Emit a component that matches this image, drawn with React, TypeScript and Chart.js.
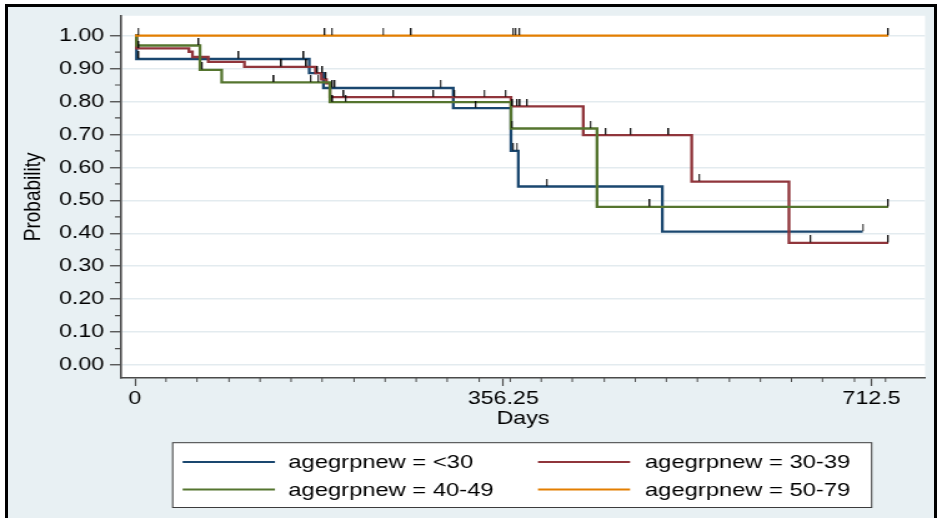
import React, { useEffect, useRef } from "react";
import { Chart, registerables } from "chart.js";

Chart.register(...registerables);

// ---------- data ----------
const seriesLabels = [
  "agegrpnew = <30",
  "agegrpnew = 30-39",
  "agegrpnew = 40-49",
  "agegrpnew = 50-79",
];
const seriesColors = ["#1a476f", "#90353b", "#55752f", "#e37e00"];

// step points: day at which survival drops, survival after the drop
const under30Days = [0, 1.5, 168.6, 182.3, 307.9, 363.7, 370.8, 510.1, 703.9];
const under30Surv = [1, 0.929, 0.886, 0.841, 0.78, 0.65, 0.542, 0.405, 0.405];
const under30Censor = [3.9, 100.6, 163.5, 181.6, 191.2, 193.5, 295.7, 329.9, 365.9, 369.2, 398.5, 703.9];

const age3039Days = [0, 1.5, 52.2, 55.6, 70.9, 105.9, 174.6, 180.4, 185.2, 188.6, 363.7, 433.6, 538.5, 632.6, 728.7];
const age3039Surv = [1, 0.961, 0.951, 0.935, 0.92, 0.905, 0.886, 0.867, 0.855, 0.813, 0.785, 0.698, 0.557, 0.371, 0.371];
const age3039Censor = [3.9, 141.9, 166.1, 176.7, 184.8, 202.2, 250.2, 288.9, 309.3, 337.9, 358.6, 365.4, 369.8, 372.7, 379.5, 455.6, 479.8, 516.5, 545.9, 653.6, 728.7];

const age4049Days = [0, 1.5, 62.9, 83.9, 188.6, 363.7, 446.9, 728.7];
const age4049Surv = [1, 0.97, 0.896, 0.858, 0.798, 0.718, 0.48, 0.48];
const age4049Censor = [61.9, 65.1, 134.7, 170.2, 177.3, 191.5, 204.1, 364.4, 440.8, 498.2, 728.7];

const age5079Days = [0, 728.7];
const age5079Surv = [1, 1];
const age5079Censor = [3.2, 183.8, 190.6, 239.9, 267.3, 365.9, 368.3, 372.1, 728.7];

const xTickValues = [0, 356.25, 712.5];
const xMinorTickValues = [30, 60, 91, 121, 151, 181, 212, 242, 272, 302, 333, 363, 393, 423, 454, 484, 514, 544, 575, 605, 635, 665, 696, 726];
const yTickValues = [0, 0.1, 0.2, 0.3, 0.4, 0.5, 0.6, 0.7, 0.8, 0.9, 1.0];
const yMinorTickValues = [0.05, 0.15, 0.25, 0.35, 0.45, 0.55, 0.65, 0.75, 0.85, 0.95];

const xMin = -13.5;
const xMax = 764.2;
const yMin = -0.0392;
const yMax = 1.0602;

const curves = [
  { days: under30Days, surv: under30Surv, censor: under30Censor },
  { days: age3039Days, surv: age3039Surv, censor: age3039Censor },
  { days: age4049Days, surv: age4049Surv, censor: age4049Censor },
  { days: age5079Days, surv: age5079Surv, censor: age5079Censor },
];

// ---------- layout / style ----------
const PAGE_W = 937;
const PAGE_H = 518;
const CANVAS_W = 750; // drawn narrower, then stretched horizontally like the reference
const FONT = "'Liberation Sans', Arial, Helvetica, sans-serif";
const AXIS_COLOR = "#4a4a4a";

function survivalAt(days: number[], surv: number[], t: number) {
  let v = surv[0];
  for (let i = 0; i < days.length; i++) {
    if (days[i] <= t) v = surv[i];
  }
  return v;
}

function makeCensorMark() {
  const c = document.createElement("canvas");
  c.width = 2;
  c.height = 15;
  const g = c.getContext("2d")!;
  g.fillStyle = "rgba(0,0,0,0.9)";
  g.fillRect(0, 0, 1, 7);
  g.fillStyle = "rgba(0,0,0,0.25)";
  g.fillRect(1, 0, 1, 7);
  return c;
}

const plotBackground = {
  id: "plotBackground",
  beforeDraw(chart: any) {
    const { ctx, chartArea: a } = chart;
    ctx.save();
    ctx.fillStyle = "#ffffff";
    ctx.fillRect(a.left, a.top, a.right - a.left, a.bottom - a.top);
    ctx.restore();
  },
};

const minorTicksAndLegend = {
  id: "minorTicksAndLegend",
  afterDraw(chart: any) {
    const { ctx, chartArea: a, scales } = chart;
    ctx.save();
    ctx.strokeStyle = AXIS_COLOR;
    ctx.lineWidth = 1;
    ctx.beginPath();
    for (const v of xMinorTickValues) {
      const px = scales.x.getPixelForValue(v);
      if (px < a.left || px > a.right) continue;
      ctx.moveTo(px, a.bottom);
      ctx.lineTo(px, a.bottom + 4);
    }
    ctx.stroke();
    ctx.lineWidth = 1.2;
    ctx.beginPath();
    for (const v of yMinorTickValues) {
      const py = scales.y.getPixelForValue(v);
      ctx.moveTo(a.left - 4.8, py);
      ctx.lineTo(a.left, py);
    }
    ctx.stroke();

    // legend box
    const box = { left: 138.2, right: 697.7, top: 442.7, bottom: 507.5 };
    ctx.fillStyle = "#ffffff";
    ctx.fillRect(box.left, box.top, box.right - box.left, box.bottom - box.top);
    ctx.strokeStyle = "#3c3c3c";
    ctx.lineWidth = 1;
    ctx.strokeRect(box.left, box.top, box.right - box.left, box.bottom - box.top);

    const lineX0 = [146.2, 430.6];
    const lineX1 = [220.1, 504.3];
    const textX = [230.8, 516.3];
    const rowY = [462, 489.5];
    ctx.font = `19px ${FONT}`;
    ctx.textBaseline = "middle";
    ctx.textAlign = "left";
    seriesLabels.forEach((label, i) => {
      const col = i % 2;
      const row = Math.floor(i / 2);
      ctx.strokeStyle = seriesColors[i];
      ctx.lineWidth = 2;
      ctx.beginPath();
      ctx.moveTo(lineX0[col], rowY[row]);
      ctx.lineTo(lineX1[col], rowY[row]);
      ctx.stroke();
      ctx.fillStyle = "#000000";
      ctx.fillText(label, textX[col], rowY[row] + 1);
    });
    ctx.restore();
  },
};

export default function App() {
  const canvasRef = useRef<HTMLCanvasElement | null>(null);

  useEffect(() => {
    const canvas = canvasRef.current;
    if (!canvas) return;
    const mark = makeCensorMark();

    const lineSets = curves.map((c, i) => ({
      type: "scatter" as const,
      label: seriesLabels[i],
      data: c.days.map((d, j) => ({ x: d, y: c.surv[j] })),
      showLine: true,
      stepped: true,
      borderColor: seriesColors[i],
      backgroundColor: seriesColors[i],
      borderWidth: 2.3,
      borderCapStyle: "butt" as const,
      borderJoinStyle: "miter" as const,
      pointRadius: 0,
      fill: false,
      order: 10 - i,
    }));

    const censorSets = curves.map((c, i) => ({
      type: "scatter" as const,
      label: seriesLabels[i] + " censored",
      data: c.censor.map((t) => ({ x: t, y: survivalAt(c.days, c.surv, t) })),
      showLine: false,
      pointStyle: mark,
      pointRadius: 3,
      order: 0,
    }));

    const chart = new Chart(canvas, {
      type: "scatter",
      data: { datasets: [...lineSets, ...censorSets] as any },
      options: {
        responsive: false,
        devicePixelRatio: 1,
        animation: false,
        events: [],
        layout: { padding: { left: 0, right: 9.6, top: 13, bottom: 0 } },
        plugins: {
          legend: { display: false },
          tooltip: { enabled: false },
        },
        scales: {
          x: {
            type: "linear",
            min: xMin,
            max: xMax,
            afterBuildTicks: (s: any) => {
              s.ticks = xTickValues.map((v) => ({ value: v }));
            },
            afterFit: (s: any) => {
              s.height = 140;
            },
            ticks: {
              callback: (v: any) => String(v),
              font: { family: FONT, size: 18.6 },
              color: "#000000",
              padding: 2,
              maxRotation: 0,
              autoSkip: false,
            },
            grid: {
              drawOnChartArea: false,
              drawTicks: true,
              tickLength: 8,
              tickColor: AXIS_COLOR,
              tickWidth: 1.2,
            },
            border: { display: true, color: AXIS_COLOR, width: 1.6 },
            title: {
              display: true,
              text: "Days",
              font: { family: FONT, size: 18.6 },
              color: "#000000",
              padding: { top: 0, bottom: 88 },
            },
          },
          y: {
            type: "linear",
            min: yMin,
            max: yMax,
            afterBuildTicks: (s: any) => {
              s.ticks = yTickValues.map((v) => ({ value: v }));
            },
            afterFit: (s: any) => {
              s.width = 96.85;
            },
            ticks: {
              callback: (v: any) => Number(v).toFixed(2),
              font: { family: FONT, size: 18.6 },
              color: "#000000",
              padding: 4.6,
              autoSkip: false,
            },
            grid: {
              color: "#e3ebef",
              lineWidth: 1.5,
              drawTicks: true,
              tickLength: 8.8,
              tickColor: AXIS_COLOR,
              tickWidth: 1.3,
            },
            border: { display: true, color: AXIS_COLOR, width: 1.6 },
            title: {
              display: true,
              text: "Probability",
              font: { family: FONT, size: 19 },
              color: "#000000",
              padding: { top: 15, bottom: 0 },
            },
          },
        },
      },
      plugins: [plotBackground, minorTicksAndLegend],
    });

    return () => chart.destroy();
  }, []);

  return (
    <div
      style={{
        position: "absolute",
        left: 0,
        top: 0,
        width: PAGE_W,
        height: PAGE_H,
        background: "#ffffff",
        overflow: "hidden",
      }}
    >
      <div
        style={{
          position: "absolute",
          left: 5,
          top: 4,
          width: PAGE_W - 5,
          height: PAGE_H,
          boxSizing: "border-box",
          borderLeft: "3px solid #000",
          borderTop: "3px solid #000",
          borderRight: "3px solid #000",
          background: "#e8f0f3",
        }}
      />
      <canvas
        ref={canvasRef}
        width={CANVAS_W}
        height={PAGE_H}
        style={{
          position: "absolute",
          left: 0,
          top: 0,
          width: PAGE_W + "px",
          height: PAGE_H + "px",
        }}
      />
    </div>
  );
}
